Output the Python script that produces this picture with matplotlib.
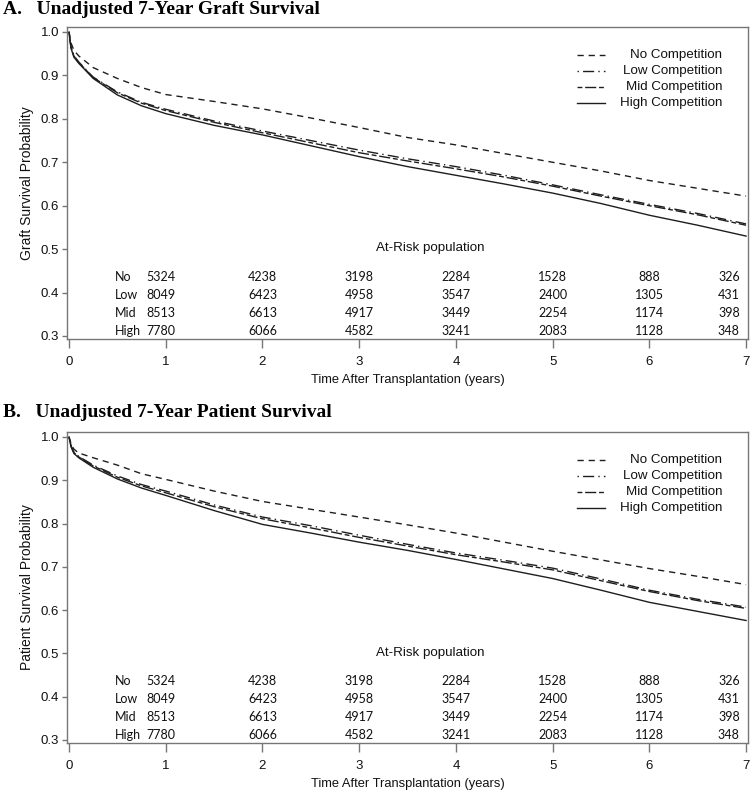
import matplotlib
matplotlib.use("Agg")
import matplotlib.pyplot as plt

# ---------------- data ----------------
times = [0, 0.02, 0.05, 0.1, 0.25, 0.5, 0.75, 1, 1.5, 2, 2.5, 3, 3.5, 4, 4.5, 5, 5.5, 6, 6.5, 7]

groups = ["No Competition", "Low Competition", "Mid Competition", "High Competition"]

graft_no = [1.0, 0.975, 0.958, 0.945, 0.918, 0.893, 0.872, 0.856, 0.840, 0.823, 0.802, 0.780, 0.757, 0.740, 0.720, 0.700, 0.680, 0.658, 0.640, 0.622]
graft_low = [1.0, 0.966, 0.946, 0.931, 0.896, 0.862, 0.838, 0.822, 0.795, 0.772, 0.750, 0.728, 0.708, 0.690, 0.670, 0.648, 0.625, 0.603, 0.582, 0.558]
graft_mid = [1.0, 0.965, 0.945, 0.930, 0.895, 0.860, 0.836, 0.819, 0.792, 0.768, 0.745, 0.722, 0.703, 0.685, 0.666, 0.645, 0.622, 0.600, 0.579, 0.555]
graft_high = [1.0, 0.963, 0.942, 0.928, 0.893, 0.855, 0.830, 0.812, 0.785, 0.763, 0.738, 0.713, 0.690, 0.670, 0.650, 0.629, 0.605, 0.578, 0.555, 0.530]

pat_no = [1.0, 0.985, 0.972, 0.963, 0.952, 0.935, 0.915, 0.902, 0.875, 0.851, 0.833, 0.815, 0.797, 0.778, 0.757, 0.736, 0.716, 0.696, 0.678, 0.659]
pat_low = [1.0, 0.980, 0.965, 0.955, 0.935, 0.910, 0.890, 0.875, 0.843, 0.815, 0.795, 0.773, 0.752, 0.732, 0.715, 0.697, 0.672, 0.646, 0.625, 0.607]
pat_mid = [1.0, 0.979, 0.964, 0.954, 0.933, 0.907, 0.887, 0.871, 0.839, 0.811, 0.790, 0.768, 0.748, 0.728, 0.711, 0.693, 0.668, 0.643, 0.622, 0.604]
pat_high = [1.0, 0.978, 0.962, 0.952, 0.930, 0.903, 0.882, 0.865, 0.830, 0.798, 0.778, 0.757, 0.738, 0.717, 0.695, 0.673, 0.646, 0.618, 0.597, 0.576]

risk_labels = ["No", "Low", "Mid", "High"]
risk_no = [5324, 4238, 3198, 2284, 1528, 888, 326]
risk_low = [8049, 6423, 4958, 3547, 2400, 1305, 431]
risk_mid = [8513, 6613, 4917, 3449, 2254, 1174, 398]
risk_high = [7780, 6066, 4582, 3241, 2083, 1128, 348]

x_ticks = [0, 1, 2, 3, 4, 5, 6, 7]
y_ticks = [0.3, 0.4, 0.5, 0.6, 0.7, 0.8, 0.9, 1.0]

# ---------------- style ----------------
W, H = 752, 802
fig = plt.figure(figsize=(W / 100, H / 100), dpi=100)

line_col = "#1e1e1e"
spine_col = "#767676"
txt_col = "#111111"
styles = [
    dict(linestyle=(0, (4.5, 3.5))),
    dict(linestyle=(0, (1, 3, 8, 3))),
    dict(linestyle=(0, (3.5, 2, 8, 2))),
    dict(linestyle="-"),
]
# column placement of the at-risk counts (x position, alignment)
col_pos = [(0.795, "left"), (2, "center"), (3, "center"), (4, "center"),
           (5, "center"), (6, "center"), (6.935, "right")]
row_y = [0.436, 0.394, 0.353, 0.311]


def px_axes(left, top, right, bottom):
    return [left / W, 1 - bottom / H, (right - left) / W, (bottom - top) / H]


def panel(rect, series, ylabel, title, title_y):
    ax = fig.add_axes(rect)
    for s, st, g in zip(series, styles, groups):
        ax.plot(times, s, color=line_col, lw=1.0, **st, label=g)
    ax.set_xlim(-0.021, 7.02)
    ax.set_ylim(0.293, 1.0115)
    ax.set_xticks(x_ticks)
    ax.set_yticks(y_ticks)
    ax.set_yticklabels([f"{v:.1f}" for v in y_ticks])
    for sp in ax.spines.values():
        sp.set_color(spine_col)
        sp.set_linewidth(1.0)
    ax.tick_params(axis="x", direction="out", length=6.5, width=1.0, color=spine_col,
                   labelsize=9.5, pad=6, labelcolor=txt_col)
    ax.tick_params(axis="y", direction="out", length=3.5, width=1.0, color=spine_col,
                   labelsize=9.5, pad=2, labelcolor=txt_col)
    for lab in ax.get_xticklabels() + ax.get_yticklabels():
        lab.set_fontfamily("Liberation Sans")
    ax.set_xlabel("Time After Transplantation (years)", fontsize=9.3,
                  family="Liberation Sans", labelpad=4, color=txt_col)
    ax.set_ylabel(ylabel, fontsize=10, family="Liberation Sans", labelpad=5,
                  color=txt_col)

    # legend (right-aligned text as in the reference)
    ys = [0.910, 0.859, 0.808, 0.756]
    for yy, st, g in zip(ys, styles, groups):
        ax.plot([0.749, 0.790], [yy, yy], transform=ax.transAxes, color=line_col,
                lw=1.0, **st)
        ax.text(0.962, yy, g, transform=ax.transAxes, ha="right", va="center",
                fontsize=9.6, family="Liberation Sans", color=txt_col)

    # at-risk table
    ax.text(3.73, 0.502, "At-Risk population", ha="center", va="center",
            fontsize=9.6, family="Liberation Sans", color=txt_col)
    rows = [risk_no, risk_low, risk_mid, risk_high]
    for yy, lab, vals in zip(row_y, risk_labels, rows):
        ax.text(0.476, yy, lab, ha="left", va="center", fontsize=9,
                family="Lato", color=txt_col)
        for (xp, al), v in zip(col_pos, vals):
            ax.text(xp, yy, str(v), ha=al, va="center", fontsize=9,
                    family="Lato", color=txt_col)

    fig.text(3 / W, 1 - title_y / H, title, ha="left", va="center",
             fontsize=14, fontweight="bold", family="Liberation Serif")
    return ax


panel(px_axes(67, 27, 748, 339), [graft_no, graft_low, graft_mid, graft_high],
      "Graft Survival Probability",
      "A.   Unadjusted 7-Year Graft Survival", 10)
panel(px_axes(67, 432, 748, 743), [pat_no, pat_low, pat_mid, pat_high],
      "Patient Survival Probability",
      "B.   Unadjusted 7-Year Patient Survival", 413)

fig.savefig("out.png", dpi=100)
